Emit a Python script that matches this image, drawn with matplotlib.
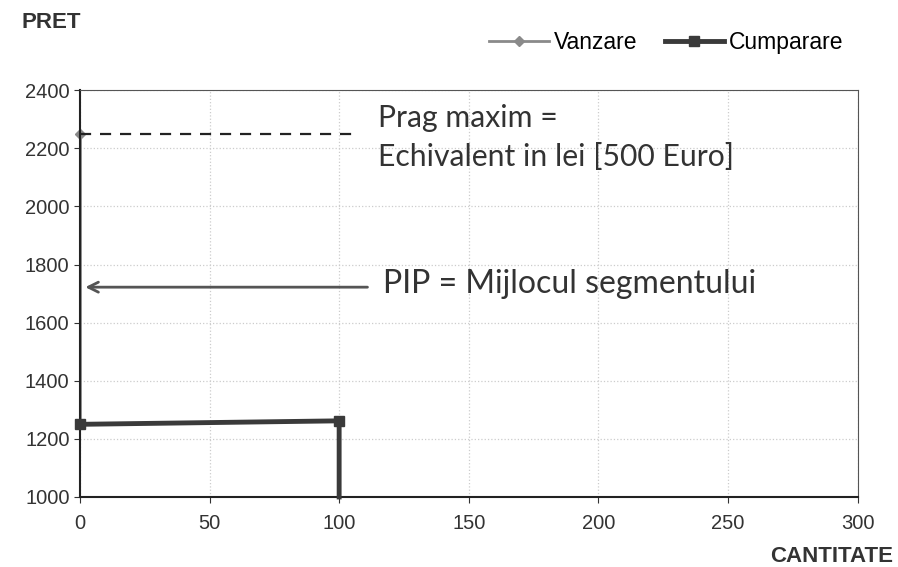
import matplotlib.pyplot as plt

# Date
x_vanzare = [0, 0]
y_vanzare = [2250, 1250]
x_cumparare = [0, 100, 100]
y_cumparare = [1250, 1262, 1000]
prag_maxim = 2250
pip = 1722
x_ticks = [0, 50, 100, 150, 200, 250, 300]
y_ticks = [1000, 1200, 1400, 1600, 1800, 2000, 2200, 2400]

plt.rcParams['font.family'] = ['Liberation Sans', 'DejaVu Sans']

fig = plt.figure(figsize=(8.98, 5.67), dpi=100)
ax = fig.add_axes([0.089, 0.1235, 0.866, 0.7175])

ax.plot(x_vanzare, y_vanzare, "-", color="#8a8a8a", linewidth=2,
        marker="D", markersize=5, label="Vanzare", clip_on=False, zorder=2)
ax.plot(x_cumparare, y_cumparare, "-", color="#3a3a3a", linewidth=3.5,
        marker="s", markersize=7, markevery=[0, 1], label="Cumparare",
        clip_on=False, zorder=5)

# linia de prag maxim
ax.plot([0, 108], [prag_maxim, prag_maxim], "--", color="#222222", linewidth=1.6,
        dashes=(5, 4))
ax.text(115, 2303, "Prag maxim =", fontsize=21.7, family=["Lato", "DejaVu Sans"],
        color="#333333", va="center")
ax.text(115, 2169, "Echivalent in lei [500 Euro]", fontsize=21.7,
        family=["Lato", "DejaVu Sans"], color="#333333", va="center")

# sageata PIP
ax.annotate("", xy=(1, pip), xytext=(112, pip),
            arrowprops=dict(arrowstyle="->", color="#555555", lw=2,
                            mutation_scale=18))
ax.text(117, 1734, "PIP = Mijlocul segmentului", fontsize=23,
        family=["Lato", "DejaVu Sans"], color="#333333", va="center")

ax.set_xlim(0, 300)
ax.set_ylim(1000, 2400)
ax.set_xticks(x_ticks)
ax.set_yticks(y_ticks)
ax.tick_params(labelsize=14.5, colors="#333333", length=4)
ax.tick_params(axis="x", pad=8)
ax.grid(True, color="#cccccc", linestyle=":", linewidth=0.9)
for s in ["top", "right"]:
    ax.spines[s].set_color("#555555")
for s in ["left", "bottom"]:
    ax.spines[s].set_color("#222222")
    ax.spines[s].set_linewidth(1.5)

fig.text(0.024, 0.96, "PRET", fontsize=16, fontweight="bold", color="#333333",
         va="center")
fig.text(0.995, 0.018, "CANTITATE", fontsize=16, fontweight="bold",
         color="#333333", ha="right", va="center")

fig.legend(loc="center right", bbox_to_anchor=(0.962, 0.925), ncol=2,
           frameon=False, fontsize=16.5, handlelength=2.6, columnspacing=1.2,
           handletextpad=0.2)

fig.savefig("out.png", dpi=100)
